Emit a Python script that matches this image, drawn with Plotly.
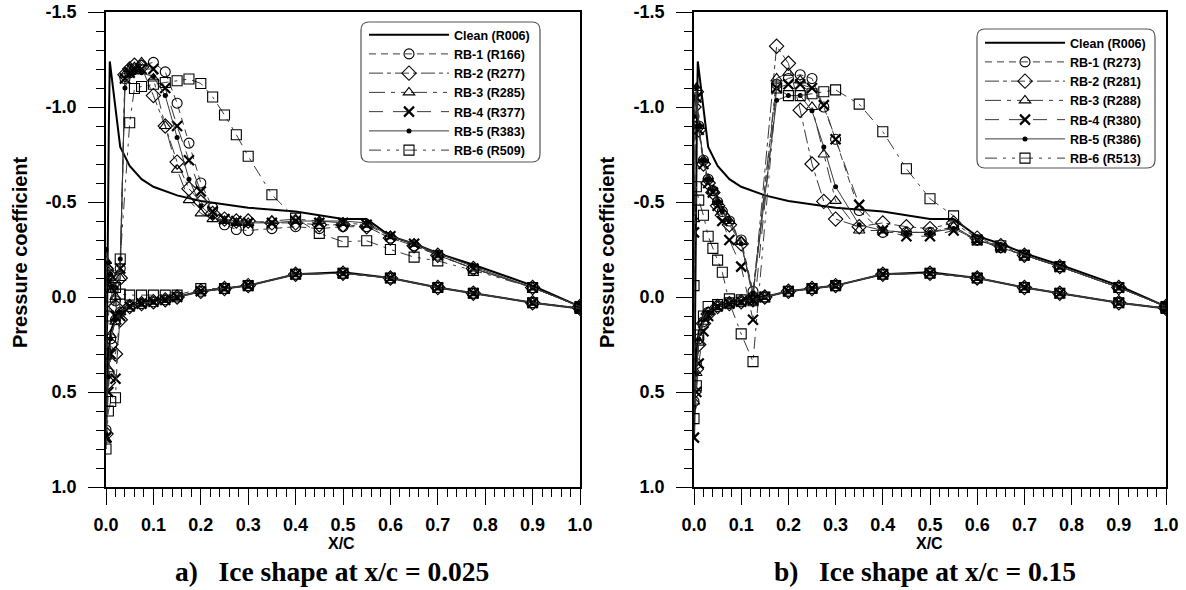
import plotly.graph_objects as go

# ---------------- data ----------------
LOWER_X = [1.0, 0.9, 0.775, 0.7, 0.6, 0.5, 0.4, 0.3, 0.25, 0.2, 0.15, 0.125, 0.1,
           0.075, 0.05, 0.03, 0.02, 0.01, 0.005, 0.0]
UPPER_X = [0.0, 0.005, 0.01, 0.02, 0.03, 0.04, 0.05, 0.06, 0.075, 0.1, 0.125, 0.15,
           0.175, 0.2, 0.225, 0.25, 0.275, 0.3, 0.35, 0.4, 0.45, 0.5, 0.55, 0.6, 0.65,
           0.7, 0.775, 0.9, 1.0]

CLEAN_X = [1.0, 0.9, 0.775, 0.7, 0.6, 0.5, 0.4, 0.3, 0.25, 0.2, 0.15, 0.125, 0.1, 0.075,
           0.05, 0.03, 0.02, 0.01, 0.005, 0.002, 0.0,
           0.003, 0.006, 0.008, 0.01, 0.015, 0.02, 0.03, 0.05, 0.075, 0.1, 0.15, 0.2,
           0.3, 0.4, 0.45, 0.5, 0.55, 0.6, 0.65, 0.7, 0.775, 0.9, 1.0]
CLEAN_CP = [0.06, 0.03, -0.02, -0.05, -0.1, -0.13, -0.12, -0.06, -0.045, -0.03, 0.0, 0.01,
            0.02, 0.03, 0.05, 0.08, 0.11, 0.18, 0.3, 0.5, 0.75,
            -0.2, -0.9, -1.24, -1.2, -1.08, -1.0, -0.79, -0.69, -0.62, -0.58, -0.535, -0.505,
            -0.47, -0.45, -0.43, -0.41, -0.41, -0.32, -0.28, -0.23, -0.17, -0.06, 0.05]

# panel a) ice shape at x/c = 0.025
A_RB1_LOW = [0.06, 0.03, -0.02, -0.05, -0.1, -0.125, -0.12, -0.06, -0.045, -0.03, 0.0, 0.015, 0.025, 0.035, 0.05, 0.08, 0.12, 0.22, 0.4, 0.7]
A_RB2_LOW = [0.06, 0.03, -0.02, -0.05, -0.1, -0.125, -0.12, -0.06, -0.045, -0.03, 0.0, 0.015, 0.025, 0.035, 0.05, 0.12, 0.3, 0.25, 0.45, 0.72]
A_RB3_LOW = [0.06, 0.03, -0.02, -0.05, -0.1, -0.125, -0.12, -0.06, -0.045, -0.03, 0.0, 0.015, 0.025, 0.035, 0.05, 0.08, 0.13, 0.2, 0.38, 0.75]
A_RB4_LOW = [0.06, 0.03, -0.02, -0.05, -0.1, -0.125, -0.12, -0.06, -0.045, -0.03, 0.0, 0.015, 0.025, 0.035, 0.05, 0.1, 0.43, 0.3, 0.5, 0.74]
A_RB5_LOW = [0.06, 0.03, -0.02, -0.05, -0.1, -0.125, -0.12, -0.06, -0.045, -0.03, 0.0, 0.015, 0.025, 0.035, 0.05, 0.08, 0.12, 0.22, 0.42, 0.72]
A_RB6_LOW = [0.06, 0.03, -0.02, -0.05, -0.1, -0.125, -0.12, -0.06, -0.045, -0.044, -0.01, -0.01, -0.01, -0.01, -0.01, -0.015, 0.53, 0.55, 0.6, 0.8]

A_RB1_UP = [-0.12, -0.1, -0.05, 0.02, -0.15, -1.15, -1.18, -1.2, -1.22, -1.235, -1.185, -1.02, -0.81, -0.6, -0.47, -0.38, -0.355, -0.35, -0.36, -0.37, -0.36, -0.37, -0.37, -0.31, -0.27, -0.22, -0.15, -0.05, 0.05]
A_RB2_UP = [-0.15, -0.12, -0.08, 0.05, -0.1, -1.17, -1.2, -1.22, -1.21, -1.06, -0.9, -0.71, -0.57, -0.5, -0.44, -0.41, -0.4, -0.4, -0.39, -0.39, -0.38, -0.38, -0.37, -0.31, -0.27, -0.22, -0.15, -0.05, 0.05]
A_RB3_UP = [-0.19, -0.15, -0.1, 0.0, -0.1, -1.17, -1.2, -1.21, -1.235, -1.15, -0.9, -0.67, -0.51, -0.44, -0.41, -0.4, -0.39, -0.39, -0.4, -0.41, -0.4, -0.39, -0.38, -0.32, -0.28, -0.22, -0.15, -0.05, 0.05]
A_RB4_UP = [-0.1, -0.08, -0.05, 0.1, -0.15, -1.15, -1.18, -1.2, -1.2, -1.2, -1.1, -0.9, -0.72, -0.556, -0.45, -0.41, -0.4, -0.39, -0.39, -0.4, -0.39, -0.39, -0.38, -0.32, -0.28, -0.22, -0.15, -0.05, 0.05]
A_RB5_UP = [-0.25, -0.18, -0.12, -0.05, -0.2, -1.1, -1.17, -1.18, -1.18, -1.16, -1.06, -0.84, -0.62, -0.48, -0.42, -0.4, -0.39, -0.39, -0.39, -0.4, -0.4, -0.4, -0.39, -0.32, -0.28, -0.23, -0.16, -0.05, 0.05]
A_RB6_UP = [0.3, 0.1, 0.0, -0.05, -0.2, None, -0.917, -1.097, -1.108, -1.12, -1.129, -1.138, -1.147, -1.124, -1.053, -0.958, -0.854, -0.741, -0.538, -0.415, -0.335, -0.291, -0.296, -0.25, -0.21, -0.19, -0.14, -0.05, 0.05]

# panel b) ice shape at x/c = 0.15
B_RB1_LOW = [0.06, 0.03, -0.02, -0.05, -0.1, -0.125, -0.12, -0.06, -0.045, -0.03, 0.0, 0.015, 0.025, 0.035, 0.05, 0.08, 0.13, 0.22, 0.35, 0.55]
B_RB2_LOW = [0.06, 0.03, -0.02, -0.05, -0.1, -0.125, -0.12, -0.06, -0.045, -0.03, 0.0, 0.015, 0.025, 0.035, 0.05, 0.09, 0.14, 0.25, 0.38, 0.5]
B_RB3_LOW = [0.06, 0.03, -0.02, -0.05, -0.1, -0.125, -0.12, -0.06, -0.045, -0.03, 0.0, 0.015, 0.025, 0.035, 0.05, 0.08, 0.13, 0.24, 0.4, 0.55]
B_RB4_LOW = [0.06, 0.03, -0.02, -0.05, -0.1, -0.125, -0.12, -0.06, -0.045, -0.03, 0.0, 0.015, 0.025, 0.035, 0.05, 0.1, 0.18, 0.35, 0.5, 0.74]
B_RB5_LOW = [0.06, 0.03, -0.02, -0.05, -0.1, -0.125, -0.12, -0.06, -0.045, -0.03, 0.0, 0.015, 0.025, 0.035, 0.05, 0.08, 0.12, 0.22, 0.4, 0.58]
B_RB6_LOW = [0.06, 0.03, -0.02, -0.05, -0.1, -0.125, -0.12, -0.06, -0.045, -0.03, 0.0, 0.02, 0.015, 0.01, 0.04, 0.05, 0.1, 0.2, 0.467, 0.64]

B_RB1_UP = [-0.95, -1.05, -0.9, -0.72, -0.62, -0.56, -0.5, -0.45, -0.4, -0.3, -0.03, None, -1.12, -1.15, -1.17, -1.15, -1.0, -0.83, -0.455, -0.34, -0.34, -0.34, -0.37, -0.3, -0.26, -0.22, -0.16, -0.05, 0.05]
B_RB2_UP = [-1.0, -1.08, -0.88, -0.7, -0.6, -0.55, -0.48, -0.43, -0.38, -0.28, 0.0, None, -1.32, -1.23, -0.983, -0.7, -0.503, -0.41, -0.37, -0.39, -0.37, -0.36, -0.39, -0.31, -0.27, -0.22, -0.16, -0.05, 0.05]
B_RB3_UP = [-0.41, -1.1, -0.9, -0.72, -0.62, -0.56, -0.5, -0.45, -0.4, -0.29, 0.0, None, -1.15, -1.18, -1.14, -1.0, -0.75, -0.506, -0.35, -0.35, -0.34, -0.34, -0.37, -0.3, -0.26, -0.22, -0.16, -0.05, 0.05]
B_RB4_UP = [-0.34, -1.05, -0.88, -0.7, -0.6, -0.55, -0.48, -0.4, -0.3, -0.16, 0.12, None, -1.1, -1.12, -1.12, -1.1, -1.01, -0.83, -0.485, -0.35, -0.32, -0.32, -0.35, -0.3, -0.26, -0.22, -0.16, -0.05, 0.05]
B_RB5_UP = [-0.95, -1.1, -0.9, -0.72, -0.62, -0.56, -0.5, -0.45, -0.4, -0.28, -0.02, None, -1.035, -1.06, -1.06, -0.98, -0.79, -0.58, -0.38, -0.35, -0.34, -0.34, -0.36, -0.3, -0.26, -0.22, -0.16, -0.05, 0.05]
B_RB6_UP = [-0.06, -0.58, -0.51, -0.43, -0.32, -0.256, -0.194, -0.13, 0.03, 0.194, 0.34, None, -1.1, -1.06, -1.06, -1.07, -1.08, -1.09, -1.015, -0.87, -0.675, -0.517, -0.427, -0.3, -0.27, -0.22, -0.16, -0.05, 0.05]

NAMES_A = ["Clean (R006)", "RB-1 (R166)", "RB-2 (R277)", "RB-3 (R285)", "RB-4 (R377)", "RB-5 (R383)", "RB-6 (R509)"]
NAMES_B = ["Clean (R006)", "RB-1 (R273)", "RB-2 (R281)", "RB-3 (R288)", "RB-4 (R380)", "RB-5 (R386)", "RB-6 (R513)"]

Y_TICKS = [-1.5, -1.0, -0.5, 0.0, 0.5, 1.0]
Y_TICKTEXT = ["-1.5", "-1.0", "-0.5", "0.0", "0.5", "1.0"]
X_TICKS = [0.0, 0.1, 0.2, 0.3, 0.4, 0.5, 0.6, 0.7, 0.8, 0.9, 1.0]
X_TICKTEXT = ["0.0", "0.1", "0.2", "0.3", "0.4", "0.5", "0.6", "0.7", "0.8", "0.9", "1.0"]

CAPTION_A = "a)\u00a0\u00a0 Ice shape at x/c = 0.025"
CAPTION_B = "b)\u00a0\u00a0 Ice shape at x/c = 0.15"

# ---------------- layout geometry ----------------
W, H = 1186, 590
ML, MR, MT, MB = 106, 20, 12, 103
PW, PH = W - ML - MR, H - MT - MB


def px_x(px):
    return (px - ML) / PW


def px_y(py):
    return 1 - (py - MT) / PH


SANS = "Arial, Liberation Sans, sans-serif"
SERIF = "Times New Roman, Liberation Serif, serif"

STYLES = [
    dict(symbol="circle-open", size=10, dash="7px,5px", mlw=1.1),
    dict(symbol="diamond-open", size=11, dash="14px,4px,4px,4px", mlw=1.1),
    dict(symbol="triangle-up-open", size=10, dash="16px,6px,4px,6px,4px,6px", mlw=1.1),
    dict(symbol="x-thin-open", size=10, dash="14px,10px", mlw=2.2),
    dict(symbol="circle", size=5, dash="solid", mlw=0),
    dict(symbol="square-open", size=10, dash="12px,6px,3px,6px,3px,6px", mlw=1.1),
]

fig = go.Figure()

panels = [
    ("x", "y", "legend", NAMES_A,
     [(A_RB1_LOW, A_RB1_UP), (A_RB2_LOW, A_RB2_UP), (A_RB3_LOW, A_RB3_UP),
      (A_RB4_LOW, A_RB4_UP), (A_RB5_LOW, A_RB5_UP), (A_RB6_LOW, A_RB6_UP)]),
    ("x2", "y2", "legend2", NAMES_B,
     [(B_RB1_LOW, B_RB1_UP), (B_RB2_LOW, B_RB2_UP), (B_RB3_LOW, B_RB3_UP),
      (B_RB4_LOW, B_RB4_UP), (B_RB5_LOW, B_RB5_UP), (B_RB6_LOW, B_RB6_UP)]),
]

for xa, ya, leg, names, series in panels:
    fig.add_trace(go.Scatter(
        x=CLEAN_X, y=CLEAN_CP, mode="lines", name=names[0], xaxis=xa, yaxis=ya,
        legend=leg, line=dict(color="black", width=2)))
    for i, (low, up) in enumerate(series):
        st = STYLES[i]
        fig.add_trace(go.Scatter(
            x=LOWER_X + UPPER_X, y=low + up, mode="lines+markers", name=names[i + 1],
            xaxis=xa, yaxis=ya, legend=leg, connectgaps=True,
            line=dict(color="#3a3a3a", width=1, dash=st["dash"]),
            marker=dict(symbol=st["symbol"], size=st["size"], color="black",
                        line=dict(color="black", width=st["mlw"]))))

axis_common = dict(showgrid=False, zeroline=False, showline=True, linecolor="black",
                   linewidth=1.6, mirror=True, ticks="outside", tickcolor="black",
                   tickwidth=1.3, ticklen=16, automargin=False)

xa_common = dict(axis_common, range=[0, 1.0], tickvals=X_TICKS, ticktext=X_TICKTEXT,
                 ticklabelstandoff=5,
                 tickfont=dict(family=SANS, size=18, color="black", weight="bold"),
                 minor=dict(dtick=0.02, ticklen=8, tickwidth=1.2, tickcolor="black",
                            ticks="outside", tick0=0))
ya_common = dict(axis_common, range=[1.0, -1.5], tickvals=Y_TICKS, ticktext=Y_TICKTEXT,
                 ticklabelstandoff=8,
                 tickfont=dict(family=SANS, size=18, color="black", weight="bold"),
                 minor=dict(dtick=0.1, ticklen=8, tickwidth=1.2, tickcolor="black",
                            ticks="outside", tick0=0))

L_R = 580
R_L = 694

fig.update_layout(
    width=W, height=H, margin=dict(l=ML, r=MR, t=MT, b=MB, autoexpand=False),
    paper_bgcolor="white", plot_bgcolor="white",
    xaxis=dict(xa_common, domain=[0, px_x(L_R)], anchor="y"),
    yaxis=dict(ya_common, domain=[0, 1], anchor="x"),
    xaxis2=dict(xa_common, domain=[px_x(R_L), 1], anchor="y2"),
    yaxis2=dict(ya_common, domain=[0, 1], anchor="x2"),
)

legend_common = dict(xanchor="left", yanchor="top", bgcolor="rgba(0,0,0,0)",
                     borderwidth=0, tracegroupgap=0, itemwidth=80,
                     font=dict(family=SANS, size=12.5, color="black", weight="bold"))
fig.update_layout(
    legend=dict(legend_common, x=px_x(364), y=px_y(20)),
    legend2=dict(legend_common, x=px_x(980), y=px_y(28)),
)


def rounded_box(x0, y0, x1, y1, r=8):
    X = px_x
    Y = px_y
    return (f"M {X(x0 + r)},{Y(y0)} L {X(x1 - r)},{Y(y0)} Q {X(x1)},{Y(y0)} {X(x1)},{Y(y0 + r)} "
            f"L {X(x1)},{Y(y1 - r)} Q {X(x1)},{Y(y1)} {X(x1 - r)},{Y(y1)} "
            f"L {X(x0 + r)},{Y(y1)} Q {X(x0)},{Y(y1)} {X(x0)},{Y(y1 - r)} "
            f"L {X(x0)},{Y(y0 + r)} Q {X(x0)},{Y(y0)} {X(x0 + r)},{Y(y0)} Z")


fig.add_shape(type="path", xref="paper", yref="paper", path=rounded_box(361, 22, 540, 162),
              line=dict(color="#555555", width=1.2))
fig.add_shape(type="path", xref="paper", yref="paper", path=rounded_box(977, 29, 1155, 168),
              line=dict(color="#555555", width=1.2))

ann = []
for cx in (20, 607):
    ann.append(dict(x=px_x(cx), y=px_y(252), xref="paper", yref="paper", text="Pressure coefficient",
                    textangle=-90, showarrow=False, xanchor="center", yanchor="middle",
                    font=dict(family=SANS, size=20, color="black", weight="bold")))
for cx in (341, 929):
    ann.append(dict(x=px_x(cx), y=px_y(543), xref="paper", yref="paper", text="X/C",
                    showarrow=False, xanchor="center", yanchor="middle",
                    font=dict(family=SANS, size=16, color="black", weight="bold")))
for cx, txt in ((332, CAPTION_A), (925, CAPTION_B)):
    ann.append(dict(x=px_x(cx), y=px_y(571.5), xref="paper", yref="paper", text=txt,
                    showarrow=False, xanchor="center", yanchor="middle",
                    font=dict(family=SERIF, size=27.5, color="black", weight="bold")))
fig.update_layout(annotations=ann)

fig.write_html("out.html", config={"displayModeBar": False},
               post_script="document.body.style.margin='0px';document.body.style.padding='0px';")
